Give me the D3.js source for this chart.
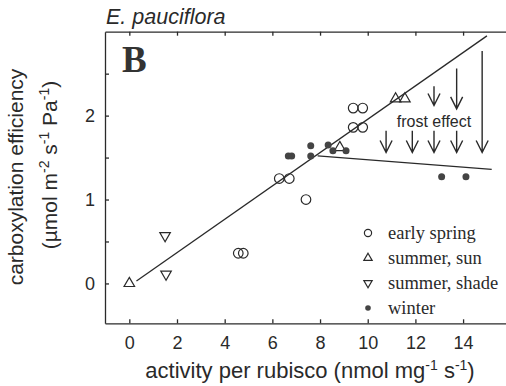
<!DOCTYPE html>
<html>
<head>
<meta charset="utf-8">
<script src="https://cdn.jsdelivr.net/npm/d3@7"></script>
<style>
  body { margin: 0; background: #fff; }
  svg { display: block; }
</style>
</head>
<body>
<script>
// data
var springX = [6.29, 6.71, 7.41, 9.39, 9.79, 9.39, 9.79, 4.57, 4.78];
var springY = [1.25, 1.25, 1.00, 2.09, 2.09, 1.86, 1.86, 0.36, 0.36];

var sunX = [0, 11.17, 11.56, 8.83];
var sunY = [0, 2.20, 2.20, 1.62];

var shadeX = [1.50, 1.54];
var shadeY = [0.57, 0.11];

var winterX = [6.67, 6.81, 7.61, 7.61, 8.34, 8.54, 9.09, 13.10, 14.12];
var winterY = [1.52, 1.52, 1.64, 1.52, 1.65, 1.58, 1.58, 1.27, 1.27];

// fitted lines
var upperLineX = [0.3, 15.0], upperLineY = [0.03, 2.95];
var lowerLineX = [7.9, 15.2], lowerLineY = [1.52, 1.36];

// frost-effect arrows
var arrowX   = [10.77, 11.87, 12.78, 13.73, 12.78, 13.73, 14.8];
var arrowTop = [1.82, 1.82, 1.82, 1.82, 2.35, 2.56, 2.77];
var arrowTip = [1.56, 1.56, 1.56, 1.56, 2.12, 2.08, 1.56];

var xTicks = [0, 2, 4, 6, 8, 10, 12, 14];
var yTicks = [0, 0.5, 1, 1.5, 2, 2.5];

var legendLabels = ["early spring", "summer, sun", "summer, shade", "winter"];

var width = 506, height = 386;
var ink = "#2a2a2a";
var sans = "Liberation Sans, Arial, sans-serif";
var serif = "Liberation Serif, Times New Roman, serif";

var svg = d3.select("body").append("svg")
    .attr("width", width)
    .attr("height", height);

var x = d3.scaleLinear().domain([-1.02, 15.8]).range([105, 506]);
var y = d3.scaleLinear().domain([-0.475, 3.0]).range([323.3, 31.7]);

// axes
svg.append("g")
    .attr("transform", "translate(0," + y.range()[0] + ")")
    .call(d3.axisBottom(x).tickValues(xTicks).tickSize(-4).tickSizeOuter(0).tickPadding(13));

svg.append("g")
    .attr("transform", "translate(0," + y.range()[1] + ")")
    .call(d3.axisTop(x).tickValues(xTicks).tickSize(-4).tickSizeOuter(0).tickFormat(""));

svg.append("g")
    .attr("transform", "translate(" + x.range()[0] + ",0)")
    .call(d3.axisLeft(y).tickValues(yTicks).tickSize(-4).tickSizeOuter(0).tickPadding(10)
      .tickFormat(function(d) { return d % 1 === 0 ? d : ""; }));

svg.selectAll(".domain, .tick line").attr("stroke", ink).attr("stroke-width", 1.3);
svg.selectAll(".tick text")
    .attr("fill", ink)
    .style("font-family", sans)
    .style("font-size", "18px");

// title and panel letter
svg.append("text")
    .attr("x", 106).attr("y", 24)
    .attr("fill", ink)
    .style("font-family", sans)
    .style("font-style", "italic")
    .style("font-size", "21.5px")
    .text("E. pauciflora");

svg.append("text")
    .attr("x", 122).attr("y", 72)
    .attr("fill", "#333")
    .style("font-family", serif)
    .style("font-weight", "bold")
    .style("font-size", "37px")
    .text("B");

// axis titles
function sup(t, s) {
    t.append("tspan").attr("dy", -8).style("font-size", "14px").text(s);
}
var xl = svg.append("text")
    .attr("x", 310).attr("y", 378)
    .attr("text-anchor", "middle")
    .attr("fill", ink)
    .style("font-family", sans)
    .style("font-size", "22px");
xl.append("tspan").text("activity per rubisco (nmol mg");
sup(xl, "-1");
xl.append("tspan").attr("dy", 8).text(" s");
sup(xl, "-1");
xl.append("tspan").attr("dy", 8).text(")");

svg.append("text")
    .attr("transform", "translate(23,177) rotate(-90)")
    .attr("text-anchor", "middle")
    .attr("fill", ink)
    .style("font-family", sans)
    .style("font-size", "21px")
    .text("carboxylation efficiency");

var yl2 = svg.append("text")
    .attr("transform", "translate(57,165) rotate(-90)")
    .attr("text-anchor", "middle")
    .attr("fill", ink)
    .style("font-family", sans)
    .style("font-size", "21px");
yl2.append("tspan").text("(\u00b5mol m");
sup(yl2, "-2");
yl2.append("tspan").attr("dy", 8).text(" s");
sup(yl2, "-1");
yl2.append("tspan").attr("dy", 8).text(" Pa");
sup(yl2, "-1");
yl2.append("tspan").attr("dy", 8).text(")");

// fitted lines
var line = d3.line().x(function(d) { return x(d[0]); }).y(function(d) { return y(d[1]); });
svg.append("path")
    .attr("d", line(d3.zip(upperLineX, upperLineY)))
    .attr("fill", "none").attr("stroke", ink).attr("stroke-width", 1.3);
svg.append("path")
    .attr("d", line(d3.zip(lowerLineX, lowerLineY)))
    .attr("fill", "none").attr("stroke", ink).attr("stroke-width", 1.3);

// arrows
var arrows = svg.append("g").attr("stroke", ink).attr("stroke-width", 1.4).attr("fill", "none");
arrowX.forEach(function(ax, i) {
    var px = x(ax), y0 = y(arrowTop[i]), y1 = y(arrowTip[i]);
    arrows.append("path")
        .attr("d", "M" + px + "," + y0 + "V" + y1 +
                   "M" + (px - 6) + "," + (y1 - 12) + "L" + px + "," + y1 + "L" + (px + 6) + "," + (y1 - 12));
});

svg.append("text")
    .attr("x", 434).attr("y", 127)
    .attr("text-anchor", "middle")
    .attr("fill", ink)
    .style("font-family", sans)
    .style("font-size", "16px")
    .text("frost effect");

// points
var tri = d3.symbol().type(d3.symbolTriangle);

svg.append("g").selectAll("circle")
    .data(d3.zip(springX, springY))
    .join("circle")
    .attr("cx", function(d) { return x(d[0]); })
    .attr("cy", function(d) { return y(d[1]); })
    .attr("r", 4.8)
    .attr("fill", "none").attr("stroke", ink).attr("stroke-width", 1.2);

svg.append("g").selectAll("path")
    .data(d3.zip(sunX, sunY))
    .join("path")
    .attr("d", tri.size(48))
    .attr("transform", function(d) { return "translate(" + x(d[0]) + "," + y(d[1]) + ")"; })
    .attr("fill", "none").attr("stroke", ink).attr("stroke-width", 1.2);

svg.append("g").selectAll("path")
    .data(d3.zip(shadeX, shadeY))
    .join("path")
    .attr("d", tri.size(48))
    .attr("transform", function(d) { return "translate(" + x(d[0]) + "," + y(d[1]) + ") rotate(180)"; })
    .attr("fill", "none").attr("stroke", ink).attr("stroke-width", 1.2);

svg.append("g").selectAll("circle")
    .data(d3.zip(winterX, winterY))
    .join("circle")
    .attr("cx", function(d) { return x(d[0]); })
    .attr("cy", function(d) { return y(d[1]); })
    .attr("r", 3.5)
    .attr("fill", "#444");

// legend
var leg = svg.append("g").attr("transform", "translate(368,233)");
legendLabels.forEach(function(lab, i) {
    var g = leg.append("g").attr("transform", "translate(0," + (i * 25) + ")");
    if (i === 0) g.append("circle").attr("r", 3.6).attr("fill", "none").attr("stroke", ink).attr("stroke-width", 1.2);
    if (i === 1) g.append("path").attr("d", tri.size(30)).attr("fill", "none").attr("stroke", ink).attr("stroke-width", 1.2);
    if (i === 2) g.append("path").attr("d", tri.size(30)).attr("transform", "rotate(180)").attr("fill", "none").attr("stroke", ink).attr("stroke-width", 1.2);
    if (i === 3) g.append("circle").attr("r", 2.8).attr("fill", "#444");
    g.append("text")
        .attr("x", 20).attr("y", 5.5)
        .attr("fill", ink)
        .style("font-family", serif)
        .style("font-size", "18.5px")
        .text(lab);
});
</script>
</body>
</html>
